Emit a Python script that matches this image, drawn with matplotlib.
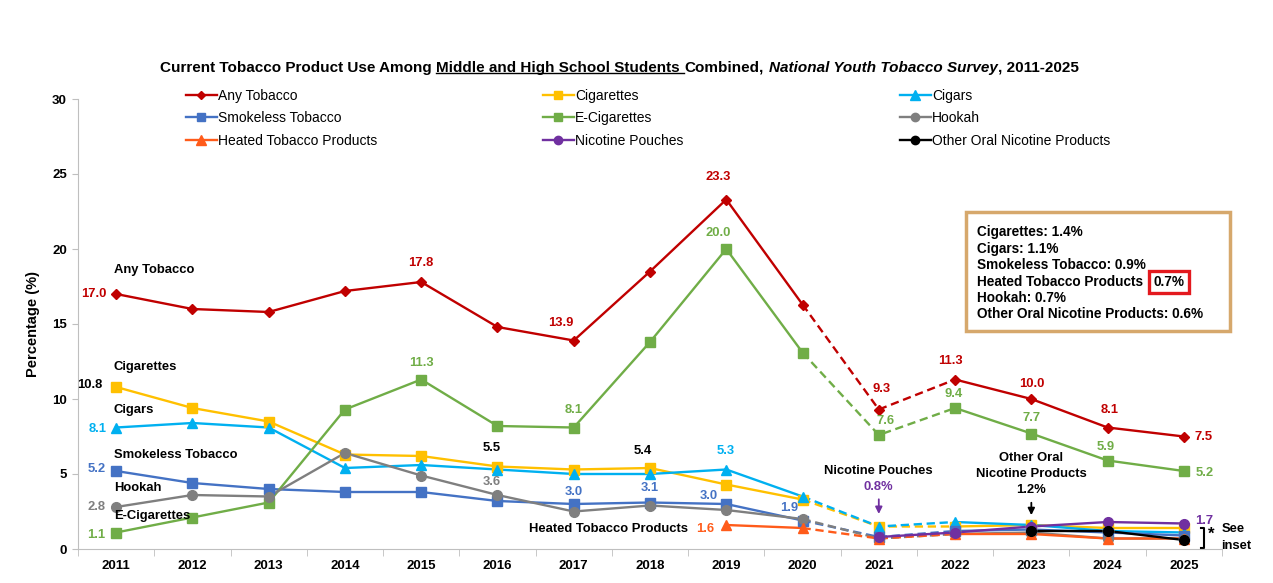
import numpy as np
import matplotlib
matplotlib.use("Agg")
import matplotlib.pyplot as plt
from matplotlib.lines import Line2D
from matplotlib.patches import Rectangle

plt.rcParams['font.family'] = ['Liberation Sans', 'DejaVu Sans']

years = np.arange(2011, 2026)
nan = np.nan

any_tobacco = [17.0, 16.0, 15.8, 17.2, 17.8, 14.8, 13.9, 18.5, 23.3, 16.3, 9.3, 11.3, 10.0, 8.1, 7.5]
cigarettes = [10.8, 9.4, 8.5, 6.3, 6.2, 5.5, 5.3, 5.4, 4.3, 3.3, 1.5, 1.5, 1.6, 1.4, 1.4]
cigars = [8.1, 8.4, 8.1, 5.4, 5.6, 5.3, 5.0, 5.0, 5.3, 3.5, 1.5, 1.8, 1.6, 1.2, 1.1]
smokeless = [5.2, 4.4, 4.0, 3.8, 3.8, 3.2, 3.0, 3.1, 3.0, 1.9, 0.8, 1.2, 1.3, 1.1, 0.9]
e_cigarettes = [1.1, 2.1, 3.1, 9.3, 11.3, 8.2, 8.1, 13.8, 20.0, 13.1, 7.6, 9.4, 7.7, 5.9, 5.2]
hookah = [2.8, 3.6, 3.5, 6.4, 4.9, 3.6, 2.5, 2.9, 2.6, 2.0, 0.7, 1.0, 1.1, 0.7, 0.7]
heated = [nan] * 8 + [1.6, 1.4, 0.7, 1.0, 1.0, 0.7, 0.7]
pouches = [nan] * 10 + [0.8, 1.1, 1.5, 1.8, 1.7]
other_oral = [nan] * 12 + [1.2, 1.2, 0.6]

inset_lines = ["Cigarettes: 1.4%", "Cigars: 1.1%", "Smokeless Tobacco: 0.9%",
               "Heated Tobacco Products", "Hookah: 0.7%", "Other Oral Nicotine Products: 0.6%"]
heated_2025 = "0.7%"

RED, YEL, CYA, BLU = '#C00000', '#FFC000', '#00B0F0', '#4472C4'
GRN, GRY, ORG, PUR = '#70AD47', '#7F7F7F', '#FF5B1A', '#7030A0'

# name, values, color, marker, marker size
series = [
    ("Any Tobacco", any_tobacco, RED, 'D', 5.5),
    ("Cigarettes", cigarettes, YEL, 's', 7),
    ("Cigars", cigars, CYA, '^', 7.5),
    ("Smokeless Tobacco", smokeless, BLU, 's', 7),
    ("E-Cigarettes", e_cigarettes, GRN, 's', 7),
    ("Hookah", hookah, GRY, 'o', 7),
    ("Heated Tobacco Products", heated, ORG, '^', 7.5),
    ("Nicotine Pouches", pouches, PUR, 'o', 7),
    ("Other Oral Nicotine Products", other_oral, 'black', 'o', 7),
]

fig = plt.figure(figsize=(12.73, 5.83), dpi=100)
ax = fig.add_axes([78 / 1273, 34 / 583, 1144 / 1273, 450 / 583])

handles = {}
for name, vals, col, mk, ms in series:
    y = np.array(vals, dtype=float)
    solid = y.copy()
    dashed = np.full_like(y, nan)
    if not np.isnan(y[9]):
        # 2020-2022 segments drawn dashed
        solid[10] = nan
        dashed[9:12] = y[9:12]
    ax.plot(years, solid, color=col, lw=1.7, zorder=3)
    ax.plot(years, dashed, color=col, lw=1.7, ls=(0, (3.5, 2)), zorder=3)
    ax.plot(years, y, ls='none', marker=mk, ms=ms, color=col, mec=col, zorder=4)
    handles[name] = Line2D([], [], color=col, lw=1.7, marker=mk, ms=ms - 1)

ax.set_xlim(2010.5, 2025.5)
ax.set_ylim(0, 30)
ax.set_yticks(range(0, 31, 5))
ax.set_xticks(years)
ax.set_xticks(np.arange(2010.5, 2025.6, 1), minor=True)
ax.tick_params(axis='x', which='major', length=0, pad=8)
ax.tick_params(axis='x', which='minor', length=5, color='#BFBFBF', direction='out')
ax.tick_params(axis='y', length=4, color='#BFBFBF', direction='out', pad=4)
for lab in ax.get_xticklabels() + ax.get_yticklabels():
    lab.set_fontweight('bold')
    lab.set_fontsize(9.5)
for s in ['top', 'right']:
    ax.spines[s].set_visible(False)
for s in ['left', 'bottom']:
    ax.spines[s].set_color('#BFBFBF')
ax.set_ylabel("Percentage (%)", fontsize=10.5, fontweight='bold', labelpad=9)

# legends: three columns
cols = [["Any Tobacco", "Smokeless Tobacco", "Heated Tobacco Products"],
        ["Cigarettes", "E-Cigarettes", "Nicotine Pouches"],
        ["Cigars", "Hookah", "Other Oral Nicotine Products"]]
col_x = [186, 543, 900]
for names, px in zip(cols, col_x):
    leg = fig.legend([handles[n] for n in names], names, loc='upper left',
                     bbox_to_anchor=(px / 1273, 1 - 89 / 583), frameon=False,
                     prop={'size': 10}, handlelength=2.2,
                     handletextpad=0.1, labelspacing=0.6, borderpad=0,
                     borderaxespad=0, numpoints=1)

# value and series labels: (text, x, y, color, ha)
labels = [
    ("Any Tobacco", 2010.97, 18.6, 'black', 'left'),
    ("17.0", 2010.88, 17.0, RED, 'right'),
    ("17.8", 2015.0, 19.05, RED, 'center'),
    ("13.9", 2016.83, 15.1, RED, 'center'),
    ("23.3", 2018.9, 24.8, RED, 'center'),
    ("20.0", 2018.9, 21.1, GRN, 'center'),
    ("9.3", 2021.04, 10.7, RED, 'center'),
    ("11.3", 2021.94, 12.55, RED, 'center'),
    ("10.0", 2023.0, 11.0, RED, 'center'),
    ("8.1", 2024.02, 9.27, RED, 'center'),
    ("7.5", 2025.14, 7.49, RED, 'left'),
    ("Cigarettes", 2010.97, 12.15, 'black', 'left'),
    ("10.8", 2010.82, 10.9, 'black', 'right'),
    ("11.3", 2015.0, 12.4, GRN, 'center'),
    ("Cigars", 2010.97, 9.3, 'black', 'left'),
    ("8.1", 2010.87, 7.98, CYA, 'right'),
    ("Smokeless Tobacco", 2010.97, 6.27, 'black', 'left'),
    ("5.2", 2010.86, 5.31, BLU, 'right'),
    ("Hookah", 2010.97, 4.05, 'black', 'left'),
    ("2.8", 2010.86, 2.82, GRY, 'right'),
    ("E-Cigarettes", 2010.97, 2.2, 'black', 'left'),
    ("1.1", 2010.86, 0.93, GRN, 'right'),
    ("8.1", 2017.0, 9.27, GRN, 'center'),
    ("5.5", 2015.92, 6.75, 'black', 'center'),
    ("3.6", 2015.92, 4.49, GRY, 'center'),
    ("3.0", 2017.0, 3.82, BLU, 'center'),
    ("5.4", 2017.9, 6.5, 'black', 'center'),
    ("3.1", 2018.0, 4.05, BLU, 'center'),
    ("5.3", 2018.99, 6.55, CYA, 'center'),
    ("3.0", 2018.77, 3.53, BLU, 'center'),
    ("1.9", 2019.82, 2.71, BLU, 'center'),
    ("Heated Tobacco Products", 2018.5, 1.33, 'black', 'right'),
    ("1.6", 2018.72, 1.33, ORG, 'center'),
    ("7.6", 2021.09, 8.55, GRN, 'center'),
    ("9.4", 2021.98, 10.33, GRN, 'center'),
    ("7.7", 2023.0, 8.75, GRN, 'center'),
    ("5.9", 2023.97, 6.82, GRN, 'center'),
    ("5.2", 2025.16, 5.1, GRN, 'left'),
    ("Nicotine Pouches", 2021.0, 5.2, 'black', 'center'),
    ("0.8%", 2021.0, 4.1, PUR, 'center'),
    ("Other Oral", 2023.0, 6.05, 'black', 'center'),
    ("Nicotine Products", 2023.0, 4.98, 'black', 'center'),
    ("1.2%", 2023.0, 3.93, 'black', 'center'),
    ("1.7", 2025.15, 1.89, PUR, 'left'),
    ("See", 2025.49, 1.33, 'black', 'left'),
    ("inset", 2025.49, 0.22, 'black', 'left'),
]
for txt, x, y, col, ha in labels:
    ax.text(x, y, txt, color=col, ha=ha, va='center', fontsize=9.4,
            fontweight='bold', zorder=6)
ax.text(2025.36, 1.0, "*", ha='center', va='center', fontsize=12, fontweight='bold')

ax.annotate('', xy=(2021.0, 2.15), xytext=(2021.0, 3.5),
            arrowprops=dict(arrowstyle='-|>', color=PUR, lw=1.3, mutation_scale=10))
ax.annotate('', xy=(2023.0, 2.07), xytext=(2023.0, 3.27),
            arrowprops=dict(arrowstyle='-|>', color='black', lw=1.3, mutation_scale=10))
ax.plot([2025.22, 2025.26, 2025.26, 2025.22], [1.4, 1.4, 0.07, 0.07],
        color='black', lw=1.5, clip_on=False)

# inset box
fig.patches.append(Rectangle((966 / 1273, 1 - 331 / 583), 264 / 1273, 119 / 583,
                             transform=fig.transFigure, fill=False,
                             edgecolor='#D6A86C', lw=2.5))
line_y = [232, 249, 265, 282, 298, 314]
for txt, py in zip(inset_lines, line_y):
    t = fig.text(977 / 1273, 1 - py / 583, txt, fontsize=9.8, fontweight='bold',
                 va='center', ha='left')
    if txt == "Heated Tobacco Products":
        ax.annotate(heated_2025, xy=(1, 0.5), xycoords=t, xytext=(7.5, 0),
                    textcoords='offset points', va='center', ha='left',
                    fontsize=9.8, fontweight='bold', annotation_clip=False,
                    bbox=dict(boxstyle='square,pad=0.32', fc='none',
                              ec='#E3191E', lw=2.4))

# title in pieces: plain / underlined / italic
pieces = [("Current Tobacco Product Use Among", 'normal', False),
          ("Middle and High School Students", 'normal', True),
          ("Combined,", 'normal', False),
          ("National Youth Tobacco Survey", 'italic', False),
          (", 2011-2025", 'normal', False)]
title_texts = []
prev = None
for i, (txt, style, under) in enumerate(pieces):
    kw = dict(fontsize=11, fontweight='bold', style=style)
    if prev is None:
        t = fig.text(0.1, 1 - 68 / 583, txt, ha='left', va='center', **kw)
    else:
        gap = 0 if txt.startswith(',') else 3.5
        t = ax.annotate(txt, xy=(1, 0), xycoords=prev, xytext=(gap, 0),
                        textcoords='offset points', ha='left', va='bottom',
                        annotation_clip=False, **kw)
    title_texts.append((t, under))
    prev = t

fig.canvas.draw()
r = fig.canvas.get_renderer()
x0 = title_texts[0][0].get_window_extent(r).x0
x1 = title_texts[-1][0].get_window_extent(r).x1
shift = 619 - (x0 + x1) / 2
first = title_texts[0][0]
first.set_x(first.get_position()[0] + shift / fig.bbox.width)
fig.canvas.draw()
for t, under in title_texts:
    if under:
        bb = t.get_window_extent(r)
        inv = fig.transFigure.inverted()
        (ux0, uy), (ux1, _) = inv.transform([(bb.x0, bb.y0 + 2), (bb.x1 + 4, bb.y0 + 2)])
        fig.add_artist(Line2D([ux0, ux1], [uy, uy], color='black', lw=1.0,
                              transform=fig.transFigure))

fig.savefig("out.png", dpi=100)
